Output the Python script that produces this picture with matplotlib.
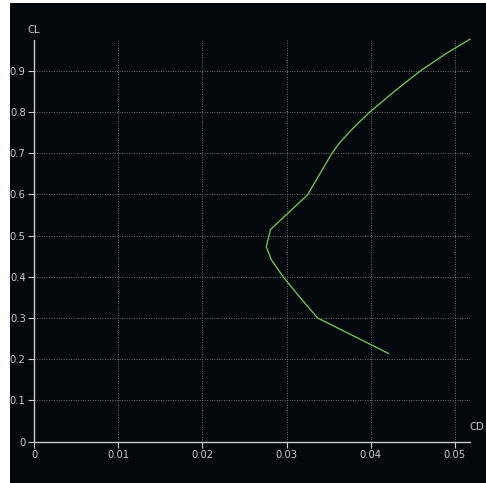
import matplotlib
matplotlib.use("Agg")
import matplotlib.pyplot as plt
from matplotlib.patches import Rectangle

# Drag polar: lift coefficient vs drag coefficient
cd_values = [0.0421, 0.0381, 0.0337, 0.0318, 0.0296, 0.0282, 0.0276, 0.0281,
             0.0325, 0.0354, 0.0363, 0.0374, 0.0386, 0.0399, 0.0428, 0.0459,
             0.0488, 0.0518]
cl_values = [0.214, 0.255, 0.300, 0.345, 0.400, 0.441, 0.473, 0.515,
             0.599, 0.700, 0.725, 0.750, 0.775, 0.800, 0.850, 0.900,
             0.940, 0.977]
x_ticks = [0, 0.01, 0.02, 0.03, 0.04, 0.05]
x_tick_labels = ["0", "0.01", "0.02", "0.03", "0.04", "0.05"]
y_ticks = [0, 0.1, 0.2, 0.3, 0.4, 0.5, 0.6, 0.7, 0.8, 0.9]
y_tick_labels = ["0", "0.1", "0.2", "0.3", "0.4", "0.5", "0.6", "0.7", "0.8", "0.9"]

W, H = 486, 483
BG = "#03080d"
FG = "#c9ccce"
GRID = "#707478"
LINE = "#6cc24c"
FONT = dict(family="DejaVu Sans", stretch="condensed", size=8)

fig = plt.figure(figsize=(W / 100, H / 100), dpi=100)
fig.patch.set_facecolor("white")
fig.patches.append(Rectangle((10 / W, 0), 1 - 10 / W, 1 - 3 / H,
                             transform=fig.transFigure, facecolor=BG,
                             edgecolor="none", zorder=-10))

left, right, bottom, top = 34, 470, 441.5, 40
ax = fig.add_axes([left / W, (H - bottom) / H, (right - left) / W, (bottom - top) / H])
ax.patch.set_alpha(0)
ax.set_xlim(0, 0.0518)
ax.set_ylim(0, 0.975)

for s in ("top", "right"):
    ax.spines[s].set_visible(False)
for s in ("left", "bottom"):
    ax.spines[s].set_color(FG)
    ax.spines[s].set_linewidth(1.0)

ax.set_xticks(x_ticks)
ax.set_xticklabels(x_tick_labels, fontdict=FONT)
ax.set_yticks(y_ticks)
ax.set_yticklabels(y_tick_labels, fontdict=FONT)
ax.tick_params(colors=FG, length=4, width=0.8, pad=2)

ax.grid(True, color=GRID, linestyle=(0, (1, 1.5)), linewidth=0.7)
ax.set_axisbelow(True)

ax.plot(cd_values, cl_values, color=LINE, linewidth=1.0, zorder=3, clip_on=False)

fig.text(34 / W, 1 - 30 / H, "CL", color=FG, ha="center", va="center", **FONT)
fig.text(477 / W, 1 - 427 / H, "CD", color=FG, ha="center", va="center", **FONT)

fig.savefig("out.png", dpi=100, facecolor=fig.get_facecolor())
